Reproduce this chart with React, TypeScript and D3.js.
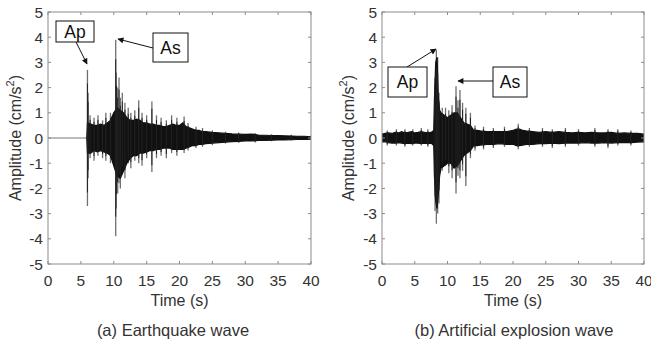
import React from "react";
import * as d3 from "d3";

// ---------- Data ----------
const xTicks = [0, 5, 10, 15, 20, 25, 30, 35, 40];
const yTicks = [5, 4, 3, 2, 1, 0, -1, -2, -3, -4, -5];

// (a) Earthquake wave: black core envelope
const eqT = [0, 5.9, 6.0, 6.5, 7, 7.5, 8, 8.5, 9, 9.5, 10, 10.5, 11, 11.5, 12, 12.5, 13, 13.5, 14, 14.5, 15, 15.5, 16, 16.5, 17, 17.5, 18, 18.5, 19, 19.5, 20, 20.5, 21, 21.5, 22, 22.5, 23, 23.5, 24, 25, 26, 27, 28, 29, 30, 31, 32, 33, 34, 35, 36, 37, 38, 39, 40];
const eqHi = [0, 0, 0.6, 0.55, 0.5, 0.5, 0.55, 0.5, 0.6, 0.7, 1.0, 1.2, 1.1, 1.0, 0.8, 0.7, 0.7, 0.75, 0.7, 0.6, 0.6, 0.55, 0.55, 0.5, 0.5, 0.45, 0.45, 0.5, 0.55, 0.5, 0.5, 0.6, 0.45, 0.4, 0.35, 0.3, 0.3, 0.25, 0.25, 0.22, 0.2, 0.18, 0.16, 0.15, 0.14, 0.15, 0.12, 0.11, 0.1, 0.1, 0.09, 0.08, 0.07, 0.07, 0.05];
const eqLo = [0, 0, -0.6, -0.6, -0.5, -0.55, -0.5, -0.55, -0.6, -0.7, -1.1, -1.5, -1.6, -1.3, -1.0, -0.8, -0.7, -0.7, -0.6, -0.6, -0.55, -0.5, -0.5, -0.45, -0.45, -0.4, -0.4, -0.4, -0.45, -0.45, -0.45, -0.45, -0.4, -0.35, -0.3, -0.3, -0.25, -0.25, -0.22, -0.2, -0.18, -0.16, -0.14, -0.13, -0.12, -0.12, -0.1, -0.1, -0.09, -0.08, -0.08, -0.07, -0.06, -0.06, -0.05];
// (a) individual spikes
const eqSpT = [6.0, 6.1, 6.4, 7.0, 7.6, 8.3, 8.8, 9.5, 10.3, 10.4, 10.6, 10.8, 11.0, 11.3, 11.7, 12.2, 12.6, 13.2, 13.8, 14.3, 15.0, 15.8, 16.5, 17.2, 18.0, 18.8, 19.6, 20.7, 21.3, 22.5, 23.5, 25, 27, 29, 31.5, 34, 37];
const eqSpHi = [2.7, 1.8, 0.9, 0.8, 0.9, 0.7, 1.0, 1.0, 3.9, 2.6, 2.0, 2.4, 1.6, 1.8, 1.4, 1.2, 1.0, 1.1, 1.5, 1.0, 0.9, 1.45, 0.9, 0.8, 0.7, 0.9, 0.8, 0.85, 0.6, 0.45, 0.4, 0.3, 0.25, 0.22, 0.2, 0.15, 0.13];
const eqSpLo = [-2.7, -1.6, -0.8, -0.9, -0.7, -0.8, -0.9, -1.0, -3.9, -2.8, -2.2, -1.8, -2.0, -1.4, -1.6, -1.0, -1.2, -0.9, -1.0, -1.1, -0.8, -1.35, -0.8, -0.7, -0.8, -0.6, -0.7, -0.6, -0.5, -0.4, -0.35, -0.28, -0.22, -0.2, -0.18, -0.13, -0.1];

// (b) Artificial explosion wave: black core envelope
const exT = [0, 0.5, 1, 1.5, 2, 2.5, 3, 3.5, 4, 4.5, 5, 5.5, 6, 6.5, 7, 7.5, 7.9, 8.0, 8.2, 8.4, 8.6, 8.8, 9, 9.5, 10, 10.5, 11, 11.5, 12, 12.5, 13, 13.5, 14, 14.5, 15, 16, 17, 18, 19, 20, 20.5, 21, 21.5, 22, 23, 24, 25, 26, 27, 28, 29, 30, 31, 32, 33, 34, 35, 36, 37, 38, 39, 40];
const exHi = [0.15, 0.18, 0.2, 0.18, 0.22, 0.2, 0.25, 0.2, 0.22, 0.25, 0.2, 0.22, 0.25, 0.22, 0.2, 0.22, 0.3, 1.5, 3.0, 3.2, 1.6, 1.1, 1.0, 0.9, 0.8, 0.9, 1.0, 1.0, 0.8, 0.6, 0.55, 0.5, 0.3, 0.3, 0.28, 0.25, 0.25, 0.25, 0.25, 0.3, 0.35, 0.35, 0.3, 0.28, 0.25, 0.22, 0.25, 0.22, 0.25, 0.22, 0.2, 0.22, 0.2, 0.22, 0.2, 0.2, 0.22, 0.18, 0.2, 0.18, 0.18, 0.15];
const exLo = [-0.15, -0.15, -0.18, -0.2, -0.2, -0.18, -0.2, -0.22, -0.2, -0.22, -0.2, -0.2, -0.22, -0.2, -0.22, -0.2, -0.3, -1.5, -2.5, -2.8, -2.2, -1.5, -1.2, -1.1, -1.0, -1.0, -1.2, -1.1, -0.9, -0.7, -0.6, -0.5, -0.3, -0.3, -0.28, -0.25, -0.25, -0.22, -0.25, -0.25, -0.3, -0.3, -0.28, -0.25, -0.25, -0.22, -0.22, -0.2, -0.22, -0.2, -0.2, -0.2, -0.18, -0.2, -0.2, -0.18, -0.2, -0.18, -0.18, -0.18, -0.16, -0.15];
// (b) individual spikes
const exSpT = [0.8, 2.2, 3.5, 4.7, 6.0, 7.0, 8.1, 8.3, 8.5, 8.7, 9.2, 9.7, 10.2, 10.7, 11.3, 11.6, 11.9, 12.3, 12.8, 13.5, 14.2, 15.5, 17, 18.7, 20.8, 22.5, 24.5, 26, 28, 30, 32.5, 34.5, 36, 38];
const exSpHi = [0.3, 0.35, 0.35, 0.35, 0.4, 0.35, 2.4, 3.5, 3.2, 1.8, 1.2, 1.2, 1.1, 1.3, 2.05, 1.5, 1.9, 1.4, 1.2, 1.0, 0.5, 0.45, 0.4, 0.45, 0.57, 0.4, 0.4, 0.35, 0.4, 0.35, 0.4, 0.35, 0.35, 0.3];
const exSpLo = [-0.3, -0.3, -0.35, -0.3, -0.3, -0.35, -2.9, -3.4, -3.0, -2.6, -1.3, -1.1, -1.4, -1.6, -2.2, -1.5, -1.6, -1.3, -1.9, -0.8, -0.5, -0.45, -0.4, -0.35, -0.45, -0.35, -0.35, -0.4, -0.35, -0.3, -0.35, -0.4, -0.3, -0.3];

const FONT = "'Liberation Sans', Arial, sans-serif";
const TEXT = "#333";
const AXIS = "#8c8c8c";

type Ann = { label: string; bx: number; by: number; bw: number; bh: number; lx: number; ly: number; tx: number; ty: number };

type PanelProps = {
  x0: number; x1: number; y0: number; y1: number;
  t: number[]; hi: number[]; lo: number[];
  st: number[]; sh: number[]; sl: number[];
  flatUntil?: number;
  caption: string; captionX: number; titleX: number;
  anns: Ann[];
};

function Panel(p: PanelProps) {
  const x = d3.scaleLinear().domain([0, 40]).range([p.x0, p.x1]);
  const y = d3.scaleLinear().domain([-5, 5]).range([p.y1, p.y0]);
  const pts = p.t.map((tt, i) => ({ t: tt, h: p.hi[i], l: p.lo[i] }));
  const area = d3.area<{ t: number; h: number; l: number }>()
    .x(d => x(d.t)).y0(d => y(d.l)).y1(d => y(d.h));
  const clipId = "clip" + p.x0;
  return (
    <g>
      <defs>
        <clipPath id={clipId}><rect x={p.x0} y={p.y0} width={p.x1 - p.x0} height={p.y1 - p.y0} /></clipPath>
      </defs>
      <g clipPath={`url(#${clipId})`}>
        {p.flatUntil !== undefined && (
          <line x1={x(0)} x2={x(p.flatUntil)} y1={y(0)} y2={y(0)} stroke="#777" strokeWidth={1} />
        )}
        {p.st.map((tt, i) => (
          <line key={"g" + i} x1={x(tt)} x2={x(tt)} y1={y(p.sh[i])} y2={y(p.sl[i])} stroke="#6f6f6f" strokeWidth={1.3} />
        ))}
        <path d={area(pts.filter(d => p.flatUntil === undefined || d.t >= p.flatUntil - 0.1))!} fill="#111" stroke="#111" strokeWidth={1.2} />
        {p.st.map((tt, i) => (
          <line key={"b" + i} x1={x(tt)} x2={x(tt)} y1={y(p.sh[i] * 0.8)} y2={y(p.sl[i] * 0.8)} stroke="#222" strokeWidth={1} />
        ))}
      </g>
      <rect x={p.x0} y={p.y0} width={p.x1 - p.x0} height={p.y1 - p.y0} fill="none" stroke={AXIS} strokeWidth={1} />
      {xTicks.map(v => (
        <g key={"xt" + v}>
          <line x1={x(v)} x2={x(v)} y1={p.y1} y2={p.y1 - 3} stroke={AXIS} />
          <line x1={x(v)} x2={x(v)} y1={p.y0} y2={p.y0 + 3} stroke={AXIS} />
          <text x={x(v)} y={p.y1 + 22} textAnchor="middle" fontFamily={FONT} fontSize={15.5} fill={TEXT}>{v}</text>
        </g>
      ))}
      {yTicks.map(v => (
        <g key={"yt" + v}>
          <line x1={p.x0} x2={p.x0 + 3} y1={y(v)} y2={y(v)} stroke={AXIS} />
          <line x1={p.x1} x2={p.x1 - 3} y1={y(v)} y2={y(v)} stroke={AXIS} />
          <text x={p.x0 - 5} y={y(v) + 5.5} textAnchor="end" fontFamily={FONT} fontSize={15.5} fill={TEXT}>{v}</text>
        </g>
      ))}
      <text x={(p.x0 + p.x1) / 2} y={p.y1 + 42} textAnchor="middle" fontFamily={FONT} fontSize={16} fill={TEXT}>Time (s)</text>
      <text transform={`translate(${p.titleX},${(p.y0 + p.y1) / 2}) rotate(-90)`} textAnchor="middle" fontFamily={FONT} fontSize={16} fill={TEXT}>
        Amplitude (cm/s<tspan dy={-7} fontSize={11}>2</tspan><tspan dy={7}>)</tspan>
      </text>
      <text x={p.captionX} y={p.y1 + 72} textAnchor="middle" fontFamily={FONT} fontSize={16.5} fill={TEXT}>{p.caption}</text>
      {p.anns.map(a => (
        <g key={a.label}>
          <line x1={a.lx} y1={a.ly} x2={a.tx} y2={a.ty} stroke="#111" strokeWidth={1} markerEnd="url(#arrow)" />
          <rect x={a.bx} y={a.by} width={a.bw} height={a.bh} fill="#fff" stroke="#111" strokeWidth={1} />
          <text x={a.bx + a.bw / 2} y={a.by + a.bh / 2 + 6} textAnchor="middle" fontFamily={FONT} fontSize={17.5} fill="#111">{a.label}</text>
        </g>
      ))}
    </g>
  );
}

export default function App() {
  return (
    <svg width={651} height={349} style={{ position: "absolute", left: 0, top: 0, background: "#fff" }}>
      <defs>
        <marker id="arrow" viewBox="0 0 10 10" refX={9} refY={5} markerWidth={7} markerHeight={6} orient="auto" markerUnits="userSpaceOnUse">
          <path d="M0,0 L10,5 L0,10 z" fill="#111" />
        </marker>
      </defs>
      <rect x={0} y={0} width={651} height={349} fill="#fff" />
      <Panel x0={48} x1={311} y0={12} y1={264}
        t={eqT} hi={eqHi} lo={eqLo} st={eqSpT} sh={eqSpHi} sl={eqSpLo} flatUntil={6.0}
        caption="(a) Earthquake wave" captionX={173} titleX={21}
        anns={[
          { label: "Ap", bx: 56, by: 21, bw: 38, bh: 21, lx: 76, ly: 42, tx: 87, ty: 64 },
          { label: "As", bx: 153, by: 33, bw: 35, bh: 29, lx: 153, ly: 48, tx: 118, ty: 39 },
        ]} />
      <Panel x0={382} x1={644} y0={12} y1={264}
        t={exT} hi={exHi} lo={exLo} st={exSpT} sh={exSpHi} sl={exSpLo}
        caption="(b) Artificial explosion wave" captionX={514} titleX={354}
        anns={[
          { label: "Ap", bx: 388, by: 67, bw: 39, bh: 30, lx: 407, ly: 67, tx: 436, ty: 49 },
          { label: "As", bx: 493, by: 67, bw: 34, bh: 30, lx: 493, ly: 81, tx: 458, ty: 81 },
        ]} />
    </svg>
  );
}
